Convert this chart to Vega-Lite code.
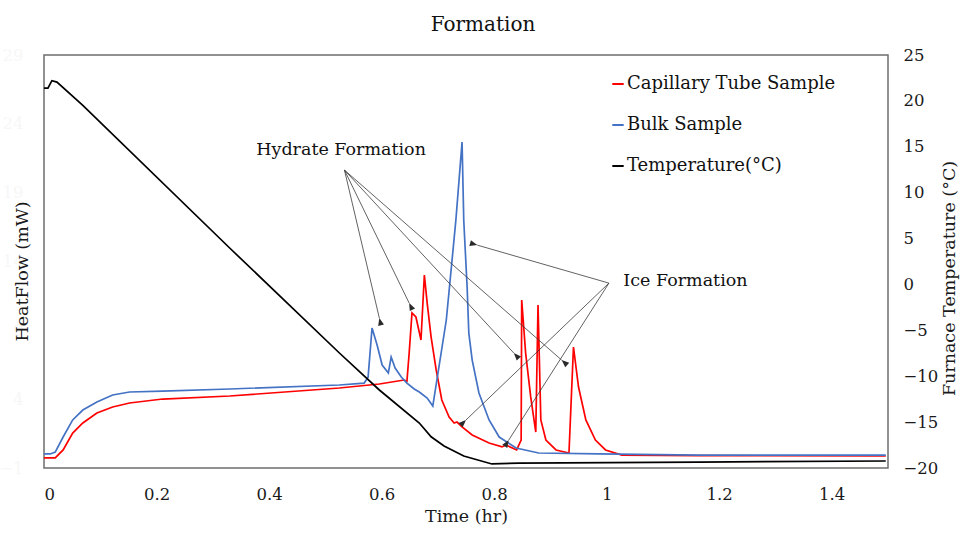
{
  "$schema": "https://vega.github.io/schema/vega-lite/v6.json",
  "autosize": {"type": "none"},
  "width": 844,
  "height": 413,
  "padding": {"left": 44, "top": 55, "right": 74, "bottom": 67},
  "background": "white",
  "config": {
    "font": "DejaVu Serif",
    "view": {"stroke": "#6e6e6e", "strokeWidth": 1.5},
    "axis": {"grid": false, "ticks": false, "domain": false, "labelFont": "DejaVu Serif", "titleFont": "DejaVu Serif", "labelColor": "#1a1a1a", "titleColor": "#1a1a1a", "titleFontWeight": "normal", "labelFontSize": 16.5, "titleFontSize": 17.5}
  },
  "title": {"text": "Formation", "fontSize": 20, "fontWeight": "normal", "font": "DejaVu Serif", "color": "#111111", "anchor": "middle", "frame": "group", "dx": 17, "offset": 12},
  "datasets": {
    "curves": [
      {"series": "Capillary Tube Sample", "time": 0.0, "value": -0.27},
      {"series": "Capillary Tube Sample", "time": 0.011, "value": -0.27},
      {"series": "Capillary Tube Sample", "time": 0.02, "value": -0.27},
      {"series": "Capillary Tube Sample", "time": 0.034, "value": 0.31},
      {"series": "Capillary Tube Sample", "time": 0.051, "value": 1.54},
      {"series": "Capillary Tube Sample", "time": 0.069, "value": 2.27},
      {"series": "Capillary Tube Sample", "time": 0.094, "value": 2.99},
      {"series": "Capillary Tube Sample", "time": 0.122, "value": 3.43},
      {"series": "Capillary Tube Sample", "time": 0.152, "value": 3.72},
      {"series": "Capillary Tube Sample", "time": 0.211, "value": 4.01},
      {"series": "Capillary Tube Sample", "time": 0.33, "value": 4.23},
      {"series": "Capillary Tube Sample", "time": 0.525, "value": 4.81},
      {"series": "Capillary Tube Sample", "time": 0.596, "value": 5.1},
      {"series": "Capillary Tube Sample", "time": 0.64, "value": 5.39},
      {"series": "Capillary Tube Sample", "time": 0.645, "value": 5.3},
      {"series": "Capillary Tube Sample", "time": 0.649, "value": 7.35},
      {"series": "Capillary Tube Sample", "time": 0.654, "value": 10.26},
      {"series": "Capillary Tube Sample", "time": 0.661, "value": 9.97},
      {"series": "Capillary Tube Sample", "time": 0.67, "value": 8.3},
      {"series": "Capillary Tube Sample", "time": 0.676, "value": 13.02},
      {"series": "Capillary Tube Sample", "time": 0.681, "value": 10.98},
      {"series": "Capillary Tube Sample", "time": 0.688, "value": 8.51},
      {"series": "Capillary Tube Sample", "time": 0.697, "value": 6.12},
      {"series": "Capillary Tube Sample", "time": 0.707, "value": 3.94},
      {"series": "Capillary Tube Sample", "time": 0.72, "value": 2.7},
      {"series": "Capillary Tube Sample", "time": 0.729, "value": 2.27},
      {"series": "Capillary Tube Sample", "time": 0.734, "value": 2.34},
      {"series": "Capillary Tube Sample", "time": 0.743, "value": 1.98},
      {"series": "Capillary Tube Sample", "time": 0.761, "value": 1.4},
      {"series": "Capillary Tube Sample", "time": 0.791, "value": 0.82},
      {"series": "Capillary Tube Sample", "time": 0.814, "value": 0.53},
      {"series": "Capillary Tube Sample", "time": 0.821, "value": 0.67},
      {"series": "Capillary Tube Sample", "time": 0.84, "value": 0.31},
      {"series": "Capillary Tube Sample", "time": 0.848, "value": 1.03},
      {"series": "Capillary Tube Sample", "time": 0.849, "value": 11.2},
      {"series": "Capillary Tube Sample", "time": 0.856, "value": 7.35},
      {"series": "Capillary Tube Sample", "time": 0.865, "value": 4.16},
      {"series": "Capillary Tube Sample", "time": 0.874, "value": 1.61},
      {"series": "Capillary Tube Sample", "time": 0.878, "value": 10.84},
      {"series": "Capillary Tube Sample", "time": 0.883, "value": 2.49},
      {"series": "Capillary Tube Sample", "time": 0.892, "value": 1.03},
      {"series": "Capillary Tube Sample", "time": 0.91, "value": 0.31},
      {"series": "Capillary Tube Sample", "time": 0.933, "value": 0.09},
      {"series": "Capillary Tube Sample", "time": 0.941, "value": 7.79},
      {"series": "Capillary Tube Sample", "time": 0.95, "value": 4.88},
      {"series": "Capillary Tube Sample", "time": 0.963, "value": 2.49},
      {"series": "Capillary Tube Sample", "time": 0.98, "value": 1.03},
      {"series": "Capillary Tube Sample", "time": 0.998, "value": 0.31},
      {"series": "Capillary Tube Sample", "time": 1.027, "value": -0.06},
      {"series": "Capillary Tube Sample", "time": 1.163, "value": -0.1},
      {"series": "Capillary Tube Sample", "time": 1.496, "value": -0.13},
      {"series": "Bulk Sample", "time": 0.0, "value": 0.02},
      {"series": "Bulk Sample", "time": 0.011, "value": 0.02},
      {"series": "Bulk Sample", "time": 0.02, "value": 0.16},
      {"series": "Bulk Sample", "time": 0.034, "value": 1.25},
      {"series": "Bulk Sample", "time": 0.051, "value": 2.49},
      {"series": "Bulk Sample", "time": 0.069, "value": 3.21},
      {"series": "Bulk Sample", "time": 0.094, "value": 3.79},
      {"series": "Bulk Sample", "time": 0.122, "value": 4.3},
      {"series": "Bulk Sample", "time": 0.152, "value": 4.52},
      {"series": "Bulk Sample", "time": 0.211, "value": 4.59},
      {"series": "Bulk Sample", "time": 0.33, "value": 4.74},
      {"series": "Bulk Sample", "time": 0.525, "value": 5.03},
      {"series": "Bulk Sample", "time": 0.569, "value": 5.17},
      {"series": "Bulk Sample", "time": 0.576, "value": 5.6},
      {"series": "Bulk Sample", "time": 0.583, "value": 9.17},
      {"series": "Bulk Sample", "time": 0.592, "value": 7.93},
      {"series": "Bulk Sample", "time": 0.601, "value": 6.48},
      {"series": "Bulk Sample", "time": 0.612, "value": 5.9},
      {"series": "Bulk Sample", "time": 0.617, "value": 7.06},
      {"series": "Bulk Sample", "time": 0.624, "value": 6.26},
      {"series": "Bulk Sample", "time": 0.635, "value": 5.61},
      {"series": "Bulk Sample", "time": 0.645, "value": 5.17},
      {"series": "Bulk Sample", "time": 0.658, "value": 4.74},
      {"series": "Bulk Sample", "time": 0.667, "value": 4.52},
      {"series": "Bulk Sample", "time": 0.681, "value": 4.08},
      {"series": "Bulk Sample", "time": 0.691, "value": 3.5},
      {"series": "Bulk Sample", "time": 0.715, "value": 9.75},
      {"series": "Bulk Sample", "time": 0.732, "value": 17.0},
      {"series": "Bulk Sample", "time": 0.743, "value": 22.67},
      {"series": "Bulk Sample", "time": 0.746, "value": 17.0},
      {"series": "Bulk Sample", "time": 0.752, "value": 12.14},
      {"series": "Bulk Sample", "time": 0.755, "value": 8.8},
      {"series": "Bulk Sample", "time": 0.761, "value": 6.84},
      {"series": "Bulk Sample", "time": 0.773, "value": 4.45},
      {"series": "Bulk Sample", "time": 0.791, "value": 2.49},
      {"series": "Bulk Sample", "time": 0.809, "value": 1.25},
      {"series": "Bulk Sample", "time": 0.839, "value": 0.45},
      {"series": "Bulk Sample", "time": 0.879, "value": 0.09},
      {"series": "Bulk Sample", "time": 0.986, "value": 0.02},
      {"series": "Bulk Sample", "time": 1.163, "value": -0.06},
      {"series": "Bulk Sample", "time": 1.496, "value": -0.06},
      {"series": "Temperature(°C)", "time": 0.0, "value": 21.4},
      {"series": "Temperature(°C)", "time": 0.007, "value": 21.4},
      {"series": "Temperature(°C)", "time": 0.014, "value": 22.2},
      {"series": "Temperature(°C)", "time": 0.023, "value": 22.05},
      {"series": "Temperature(°C)", "time": 0.069, "value": 19.5},
      {"series": "Temperature(°C)", "time": 0.33, "value": 3.97},
      {"series": "Temperature(°C)", "time": 0.525, "value": -7.47},
      {"series": "Temperature(°C)", "time": 0.596, "value": -11.5},
      {"series": "Temperature(°C)", "time": 0.667, "value": -15.1},
      {"series": "Temperature(°C)", "time": 0.688, "value": -16.6},
      {"series": "Temperature(°C)", "time": 0.711, "value": -17.6},
      {"series": "Temperature(°C)", "time": 0.746, "value": -18.7},
      {"series": "Temperature(°C)", "time": 0.796, "value": -19.56},
      {"series": "Temperature(°C)", "time": 0.844, "value": -19.46},
      {"series": "Temperature(°C)", "time": 1.163, "value": -19.35},
      {"series": "Temperature(°C)", "time": 1.496, "value": -19.24}
    ],
    "arrows": [
      {"group": "Hydrate Formation", "t1": 0.534, "v1": 20.64, "t2": 0.596, "v2": 9.89},
      {"group": "Hydrate Formation", "t1": 0.534, "v1": 20.64, "t2": 0.649, "v2": 10.98},
      {"group": "Hydrate Formation", "t1": 0.534, "v1": 20.64, "t2": 0.835, "v2": 7.35},
      {"group": "Hydrate Formation", "t1": 0.534, "v1": 20.64, "t2": 0.92, "v2": 6.84},
      {"group": "Ice Formation", "t1": 1.004, "v1": 12.43, "t2": 0.77, "v2": 15.19},
      {"group": "Ice Formation", "t1": 1.004, "v1": 12.43, "t2": 0.75, "v2": 2.49},
      {"group": "Ice Formation", "t1": 1.004, "v1": 12.43, "t2": 0.826, "v2": 1.03}
    ],
    "notes": [
      {"text": "Hydrate Formation", "time": 0.528, "value": 22.1},
      {"text": "Ice Formation", "time": 1.14, "value": 12.58}
    ]
  },
  "layer": [
    {
      "layer": [
        {
          "data": {"name": "curves"},
          "transform": [{"filter": "datum.series !== 'Temperature(°C)'"}],
          "mark": {"type": "line", "strokeWidth": 1.7, "clip": true},
          "encoding": {
            "x": {"field": "time", "type": "quantitative", "scale": {"domain": [0, 1.5], "nice": false},
              "axis": {"title": "Time (hr)", "values": [0, 0.2, 0.4, 0.6, 0.8, 1, 1.2, 1.4], "format": "~g", "labelPadding": 18, "titlePadding": 5}},
            "y": {"field": "value", "type": "quantitative", "scale": {"domain": [-1, 29], "nice": false, "zero": false},
              "axis": {"orient": "left", "title": "HeatFlow (mW)", "values": [-1, 4, 9, 14, 19, 24, 29], "labelColor": "#f7f7f7", "labelPadding": 21, "titleAngle": 270, "titleX": -22, "titleY": 216, "titleBaseline": "middle", "titleAlign": "center"}},
            "color": {"field": "series", "type": "nominal",
              "scale": {"domain": ["Capillary Tube Sample", "Bulk Sample", "Temperature(°C)"], "range": ["#ff0000", "#4472c4", "#000000"]},
              "legend": {"title": null, "orient": "none", "legendX": 565, "legendY": 20, "symbolType": "stroke", "symbolSize": 130, "symbolStrokeWidth": 2, "labelFontSize": 18, "labelFont": "DejaVu Serif", "labelColor": "#111111", "labelOffset": 0, "rowPadding": 23, "padding": 0, "labelLimit": 400}},
            "detail": {"field": "series"}
          }
        },
        {
          "data": {"name": "arrows"},
          "mark": {"type": "rule", "color": "#3a3a3a", "strokeWidth": 0.8},
          "encoding": {
            "x": {"field": "t1", "type": "quantitative"},
            "y": {"field": "v1", "type": "quantitative"},
            "x2": {"field": "t2"},
            "y2": {"field": "v2"}
          }
        },
        {
          "data": {"name": "arrows"},
          "transform": [{"calculate": "atan2((datum.t1 - datum.t2) * 564, (datum.v1 - datum.v2) * 13.77) * 180 / PI + 180", "as": "heading"}],
          "mark": {"type": "point", "shape": "M0,0L-0.4,-1L0.4,-1Z", "filled": true, "color": "#2a2a2a", "opacity": 1, "size": 220},
          "encoding": {
            "x": {"field": "t2", "type": "quantitative"},
            "y": {"field": "v2", "type": "quantitative"},
            "angle": {"field": "heading", "type": "quantitative", "scale": null}
          }
        },
        {
          "data": {"name": "notes"},
          "mark": {"type": "text", "fontSize": 17.5, "font": "DejaVu Serif", "color": "#111111", "baseline": "middle", "align": "center"},
          "encoding": {
            "x": {"field": "time", "type": "quantitative"},
            "y": {"field": "value", "type": "quantitative"},
            "text": {"field": "text"}
          }
        }
      ]
    },
    {
      "data": {"name": "curves"},
      "transform": [{"filter": "datum.series === 'Temperature(°C)'"}],
      "mark": {"type": "line", "strokeWidth": 1.7, "clip": true},
      "encoding": {
        "x": {"field": "time", "type": "quantitative"},
        "y": {"field": "value", "type": "quantitative", "scale": {"domain": [-20, 25], "nice": false, "zero": false},
          "axis": {"orient": "right", "title": "Furnace Temperature (°C)", "values": [-20, -15, -10, -5, 0, 5, 10, 15, 20, 25], "labelPadding": 15, "titleAngle": 270, "titleX": 61, "titleY": 223, "titleBaseline": "middle", "titleAlign": "center"}},
        "color": {"field": "series", "type": "nominal"}
      }
    }
  ],
  "resolve": {"scale": {"y": "independent"}}
}
